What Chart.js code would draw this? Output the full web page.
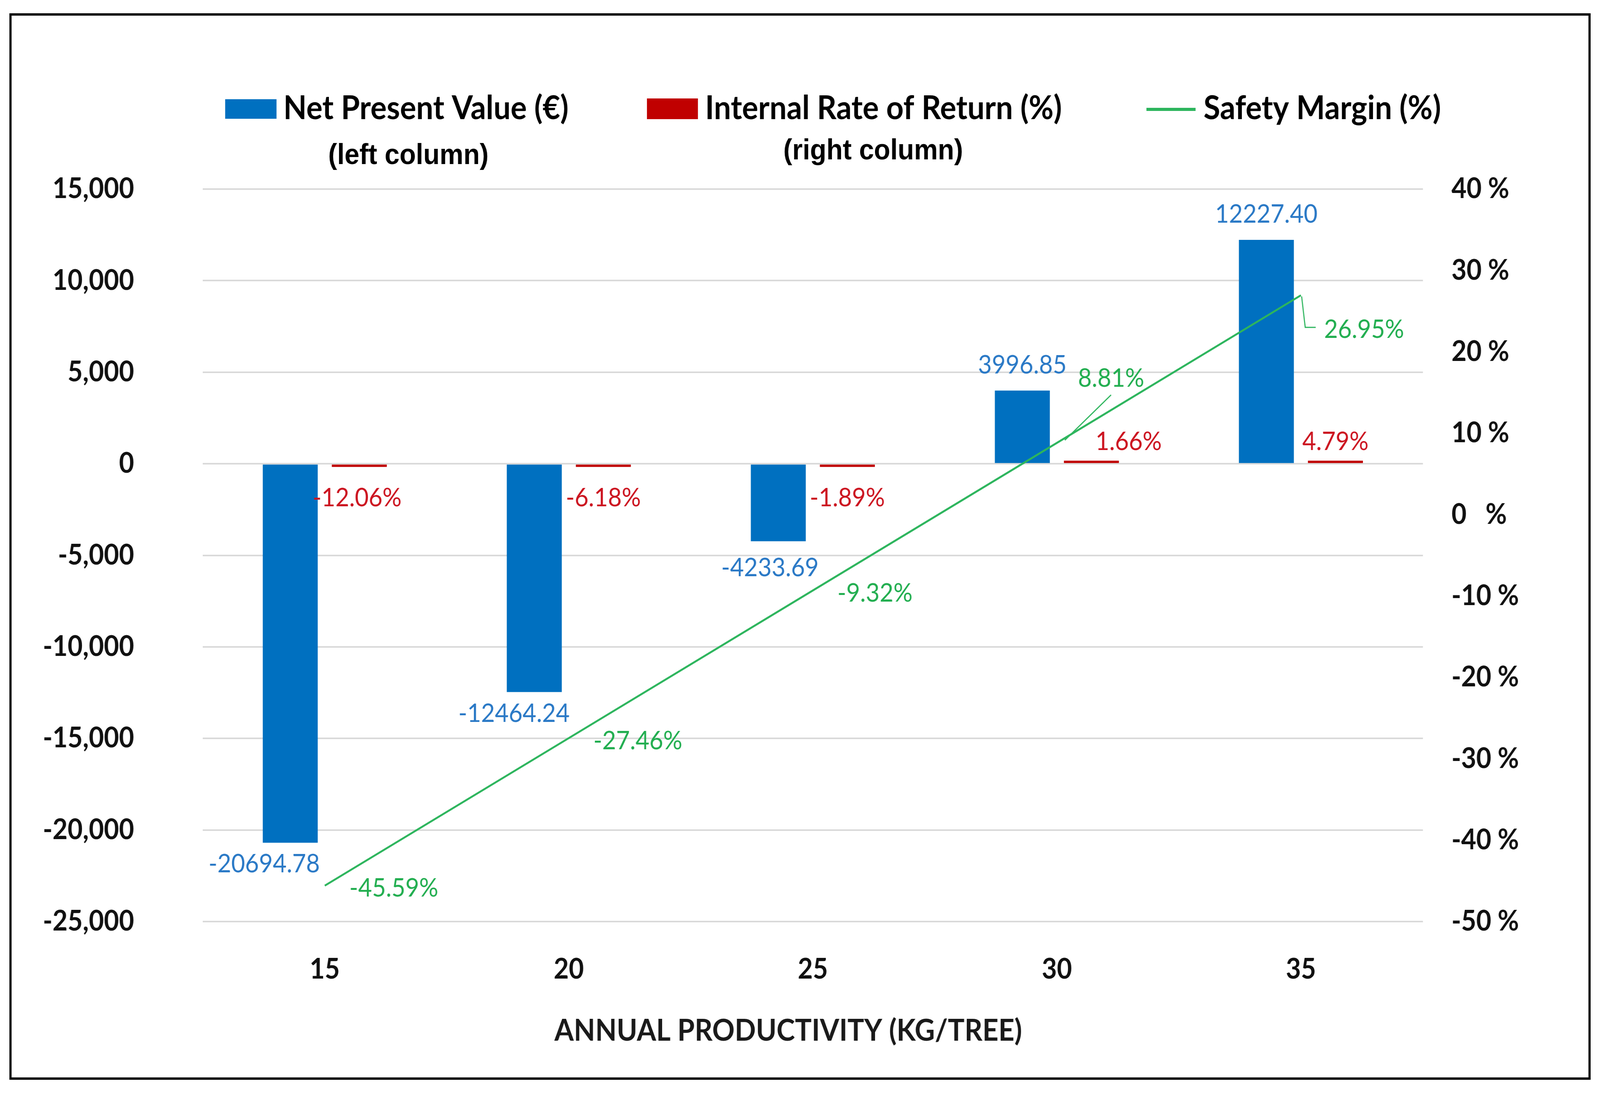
<!DOCTYPE html>
<html>
<head>
<meta charset="utf-8">
<script src="https://cdn.jsdelivr.net/npm/chart.js@4.4.1/dist/chart.umd.min.js"></script>
<style>
  html, body { margin: 0; padding: 0; background: #fff; overflow: hidden; }
  #chart { display: block; width: 100vw; height: 100vh; }
</style>
</head>
<body>
<canvas id="chart" width="4427" height="2803" style="width:100vw;height:100vh"></canvas>
<script>
const categories = ['15', '20', '25', '30', '35'];
const npvValues = [-20694.78, -12464.24, -4233.69, 3996.85, 12227.40];
const irrValues = [-12.06, -6.18, -1.89, 1.66, 4.79];
const marginValues = [-45.59, -27.46, -9.32, 8.81, 26.95];
const leftTicks = [-25000, -20000, -15000, -10000, -5000, 0, 5000, 10000, 15000];
const rightTicks = [-50, -40, -30, -20, -10, 0, 10, 20, 30, 40];

const BLUE = '#0070C0';
const RED = '#C00000';
const GREEN = '#2DB55D';

// label nudges, tuned by eye against the reference
const npvNudge = [[-72, 0], [-56, 0], [-23, 13], [0, 0], [0, 0]];
const irrNudge = [[-6, 0], [0, 0], [0, 0], [103, 0], [0, 0]];

const extras = {
    id: 'extras',
    beforeDraw(chart) {
        const c = chart.ctx;
        c.save();
        c.fillStyle = '#fff';
        c.fillRect(0, 0, chart.width, chart.height);
        c.restore();
    },
    afterDatasetsDraw(chart) {
        const c = chart.ctx;
        c.save();
        c.textBaseline = 'middle';
        c.font = '66px Lato';

        // NPV labels
        c.fillStyle = '#2A79C6';
        c.textAlign = 'center';
        chart.getDatasetMeta(0).data.forEach((el, i) => {
            const v = npvValues[i];
            const y = v >= 0 ? el.y - 65 : el.y + 55;
            c.fillText(v.toFixed(2), el.x + npvNudge[i][0], y + npvNudge[i][1]);
        });

        // IRR labels
        c.fillStyle = '#CC1420';
        chart.getDatasetMeta(1).data.forEach((el, i) => {
            const v = irrValues[i];
            const y = v >= 0 ? el.y - 48 : el.y + 80;
            c.fillText(v.toFixed(2) + '%', el.x + irrNudge[i][0], y + irrNudge[i][1]);
        });

        // safety margin labels
        c.fillStyle = '#22AE50';
        c.strokeStyle = GREEN;
        c.lineWidth = 3;
        chart.getDatasetMeta(2).data.forEach((el, i) => {
            const t = marginValues[i].toFixed(2) + '%';
            const px = el.x, py = el.y;
            if (i === 3) {
                c.beginPath();
                c.moveTo(px + 22, py - 7);
                c.lineTo(px + 150, py - 123);
                c.stroke();
                c.textAlign = 'center';
                c.fillText(t, px + 150, py - 165);
            } else if (i === 4) {
                c.beginPath();
                c.moveTo(px + 2, py + 3);
                c.lineTo(px + 12, py + 82);
                c.lineTo(px + 41, py + 82);
                c.stroke();
                c.textAlign = 'left';
                c.fillText(t, px + 64, py + 88);
            } else {
                c.textAlign = 'left';
                c.fillText(t, px + 68, py + 7);
            }
        });
        c.restore();
    },
    afterDraw(chart) {
        const c = chart.ctx;
        c.save();

        // legend
        c.fillStyle = BLUE;
        c.fillRect(623, 254, 142, 50);
        c.fillStyle = RED;
        c.fillRect(1790, 252, 141, 53);
        c.strokeStyle = GREEN;
        c.lineWidth = 8;
        c.beginPath();
        c.moveTo(3172, 280);
        c.lineTo(3308, 280);
        c.stroke();

        c.fillStyle = '#000';
        c.textBaseline = 'alphabetic';
        c.textAlign = 'left';
        c.font = 'bold 84px Lato';
        c.fillText('Net Present Value (€)', 784, 305);
        c.fillText('Internal Rate of Return (%)', 1951, 305);
        c.fillText('Safety Margin (%)', 3330, 305);

        c.textAlign = 'center';
        c.font = 'bold 74px "Liberation Sans"';
        c.fillText('(left column)', 1130, 420);
        c.fillText('(right column)', 2416, 408);

        // axis title
        c.font = 'bold 77px Lato';
        c.textBaseline = 'middle';
        c.fillStyle = '#1a1a1a';
        c.fillText('ANNUAL PRODUCTIVITY (KG/TREE)', 2181, 2639);

        // frame
        c.strokeStyle = '#000';
        c.lineWidth = 6;
        c.strokeRect(29, 37, 4369, 2724);
        c.restore();
    }
};

const ctx = document.getElementById('chart');

new Chart(ctx, {
    data: {
        labels: categories,
        datasets: [
            {
                type: 'bar',
                label: 'Net Present Value (€)',
                data: npvValues,
                backgroundColor: BLUE,
                yAxisID: 'y',
                order: 1,
                categoryPercentage: 0.566,
                barPercentage: 0.796
            },
            {
                type: 'bar',
                label: 'Internal Rate of Return (%)',
                data: irrValues,
                backgroundColor: RED,
                yAxisID: 'y',
                order: 1,
                minBarLength: 8,
                categoryPercentage: 0.566,
                barPercentage: 0.796
            },
            {
                type: 'line',
                label: 'Safety Margin (%)',
                data: marginValues,
                borderColor: GREEN,
                backgroundColor: GREEN,
                borderWidth: 5,
                pointRadius: 0,
                tension: 0,
                yAxisID: 'y1',
                order: 0
            }
        ]
    },
    options: {
        responsive: false,
        animation: false,
        devicePixelRatio: 1,
        layout: { padding: { top: 484, left: 0, right: 0, bottom: 0 } },
        plugins: {
            legend: { display: false },
            tooltip: { enabled: false }
        },
        scales: {
            x: {
                grid: { display: false },
                border: { display: false },
                ticks: {
                    padding: 72,
                    color: '#111',
                    font: { family: 'Lato', weight: 'bold', size: 72 }
                },
                afterFit: s => { s.height = 444; }
            },
            y: {
                position: 'left',
                min: -25000,
                max: 15000,
                afterBuildTicks: s => { s.ticks = leftTicks.map(v => ({ value: v })); },
                grid: { color: '#D9D9D9', lineWidth: 4, drawTicks: false },
                border: { display: false },
                ticks: {
                    padding: 190,
                    color: '#111',
                    font: { family: 'Lato', weight: 'bold', size: 72 },
                    callback: v => v.toLocaleString('en-US')
                },
                afterFit: s => { s.width = 561; }
            },
            y1: {
                position: 'right',
                min: -50,
                max: 40,
                afterBuildTicks: s => { s.ticks = rightTicks.map(v => ({ value: v })); },
                grid: { display: false, drawTicks: false },
                border: { display: false },
                ticks: {
                    padding: 79,
                    color: '#111',
                    font: { family: 'Lato', weight: 'bold', size: 72 },
                    callback: v => (v === 0 ? '0   %' : v + ' %')
                },
                afterFit: s => { s.width = 490; }
            }
        }
    },
    plugins: [extras]
});
</script>
</body>
</html>
